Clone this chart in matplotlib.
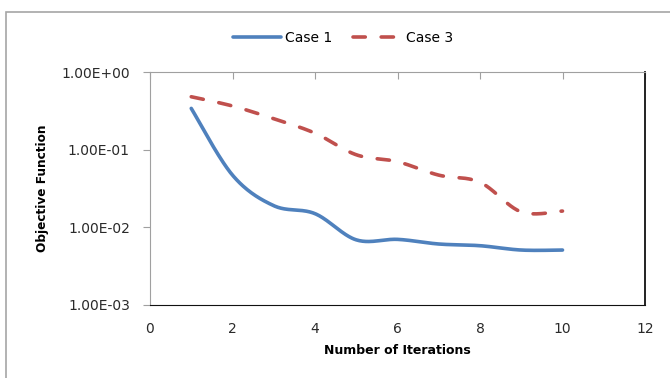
"""
Objective function vs. number of iterations (log scale), two cases
"""
import numpy as np
import matplotlib.pyplot as plt
from matplotlib.patches import Rectangle

plt.rcParams['font.family'] = ['DejaVu Sans']

iterations = [1, 2, 3, 4, 5, 6, 7, 8, 9, 10]
case1 = [0.34, 0.047, 0.019, 0.015, 0.0069, 0.0070, 0.0061, 0.0058, 0.0051, 0.0051]
case3 = [0.48, 0.365, 0.25, 0.163, 0.086, 0.070, 0.047, 0.038, 0.0158, 0.0162]

xticks = [0, 2, 4, 6, 8, 10, 12]
yticks = [1e-3, 1e-2, 1e-1, 1e0]
ytick_labels = ["1.00E-03", "1.00E-02", "1.00E-01", "1.00E+00"]

BLUE = '#4F81BD'
RED = '#C0504D'
GRID = '#a0a0a0'
TEXT = '#2a2a2a'


def smooth(x, y, n=40):
    """Catmull-Rom style smoothing done in (x, log10 y) space"""
    x = np.asarray(x, float)
    ly = np.log10(np.asarray(y, float))
    px = np.concatenate([[x[0]], x, [x[-1]]])
    py = np.concatenate([[ly[0]], ly, [ly[-1]]])
    xs, ys = [], []
    t = np.linspace(0, 1, n)
    for i in range(1, len(px) - 2):
        p0 = np.array([px[i], py[i]])
        p3 = np.array([px[i + 1], py[i + 1]])
        p1 = p0 + (p3 - np.array([px[i - 1], py[i - 1]])) / 6
        p2 = p3 - (np.array([px[i + 2], py[i + 2]]) - p0) / 6
        b = ((1 - t) ** 3)[:, None] * p0 + (3 * (1 - t) ** 2 * t)[:, None] * p1 \
            + (3 * (1 - t) * t ** 2)[:, None] * p2 + (t ** 3)[:, None] * p3
        xs.append(b[:, 0])
        ys.append(b[:, 1])
    return np.concatenate(xs), 10 ** np.concatenate(ys)


fig = plt.figure(figsize=(6.7, 3.78), dpi=100)
# chart area border
fig.patches.append(Rectangle((6 / 670, -0.1), 1.2, 1.1 - 12 / 378,
                             transform=fig.transFigure, fill=False,
                             edgecolor='#a6a6a6', lw=1.2, zorder=-1))

ax = fig.add_axes([150 / 670, 1 - 305 / 378, 495 / 670, 233 / 378])

sx, sy = smooth(iterations, case1)
ax.plot(sx, sy, color=BLUE, lw=2.6, solid_capstyle='round', label='Case 1')
sx, sy = smooth(iterations, case3)
ax.plot(sx, sy, color=RED, lw=2.6, dashes=(3.4, 4.4), dash_capstyle='round',
        label='Case 3')

ax.set_yscale('log')
ax.set_ylim(1e-3, 1e0)
ax.set_xlim(0, 12)
ax.set_yticks(yticks)
ax.set_yticklabels(ytick_labels)
ax.yaxis.set_minor_locator(plt.NullLocator())
ax.set_xticks(xticks)

ax.tick_params(axis='y', direction='out', length=5, color=GRID,
               labelsize=10, labelcolor=TEXT, pad=9.5)
ax.tick_params(axis='x', direction='in', bottom=False, top=True, length=5,
               color=GRID, labelsize=10, labelcolor=TEXT, pad=12)

ax.spines['top'].set_color(GRID)
ax.spines['left'].set_color(GRID)
ax.spines['bottom'].set_color('#111111')
ax.spines['right'].set_color('#111111')
ax.spines['right'].set_linewidth(1.3)

ax.set_xlabel("Number of Iterations", fontsize=9, fontweight='bold', labelpad=6)
ax.set_ylabel("Objective Function", fontsize=8.7, fontweight='bold', labelpad=9)

fig.legend(loc='center', bbox_to_anchor=(343 / 670, 1 - 38 / 378), ncol=2,
           frameon=False, fontsize=10, handlelength=3.5, columnspacing=1.5,
           handletextpad=0.3)

fig.savefig('out.png', dpi=100)
